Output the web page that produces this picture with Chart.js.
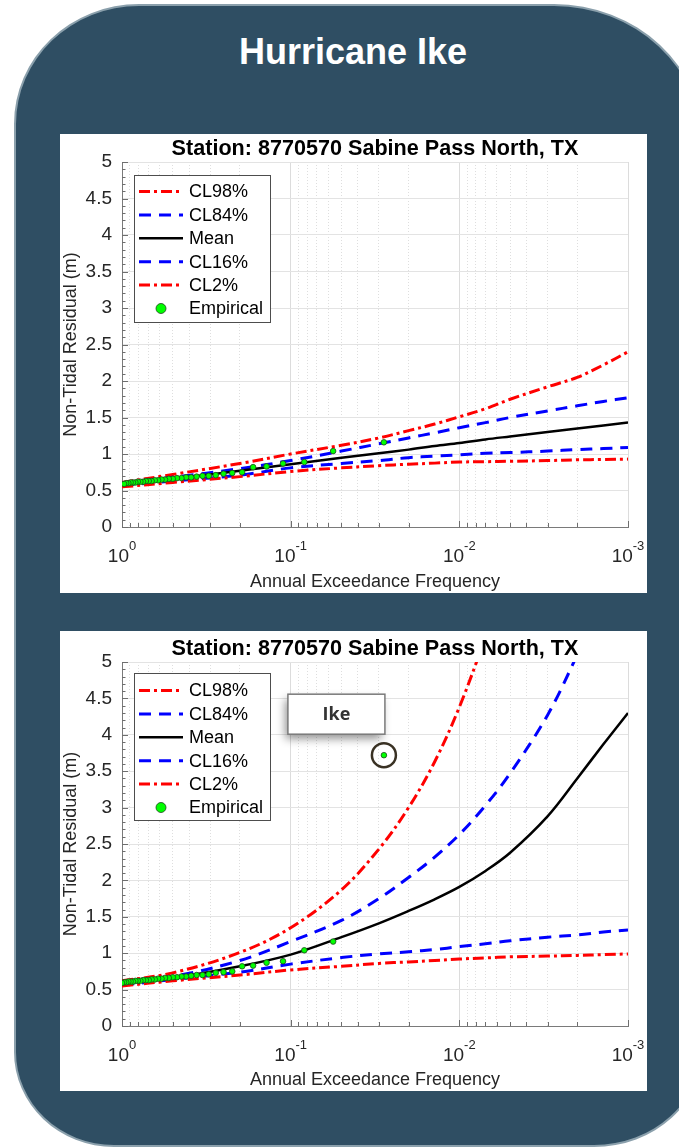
<!DOCTYPE html>
<html>
<head>
<meta charset="utf-8">
<title>Hurricane Ike</title>
<script src="https://cdn.jsdelivr.net/npm/chart.js@4.4.1/dist/chart.umd.min.js"></script>
<style>
  html, body { margin: 0; padding: 0; background: #ffffff; }
  body { width: 679px; height: 1148px; position: relative; overflow: hidden; font-family: "Liberation Sans", Arial, sans-serif; }
  #panel { position: absolute; left: 14px; top: 4px; width: 690px; height: 1143px; box-sizing: border-box;
           background: #2f4e63; border: 2px solid #8ba0ac;
           border-radius: 125px 150px 110px 100px / 120px 140px 100px 95px; }
  #heading { position: absolute; left: 0; top: 34px; width: 706px; text-align: center; color: #ffffff;
             font: bold 36px/36px "Liberation Sans", Arial, sans-serif; }
  .box { position: absolute; left: 60px; width: 587px; background: #ffffff; }
  #box1 { top: 134px; height: 459px; }
  #box2 { top: 631px; height: 460px; }
  canvas { display: block; }
</style>
</head>
<body>
<div id="panel"></div>
<div id="heading">Hurricane Ike</div>
<div class="box" id="box1"><canvas id="chartTop" width="587" height="459"></canvas></div>
<div class="box" id="box2"><canvas id="chartIke" width="587" height="460"></canvas></div>
<script>
    // x axis: annual exceedance frequency, log scale, reversed
    var xTickValues = [0.001, 0.002, 0.003, 0.004, 0.005, 0.006, 0.007, 0.008, 0.009,
                       0.01, 0.02, 0.03, 0.04, 0.05, 0.06, 0.07, 0.08, 0.09,
                       0.1, 0.2, 0.3, 0.4, 0.5, 0.6, 0.7, 0.8, 0.9, 1]
    var xMajorValues = [1, 0.1, 0.01, 0.001]
    var xMajorExp = ['0', '-1', '-2', '-3']

    // fitted curves, sampled at these frequencies
    var aefCurve = [1, 0.5, 0.2, 0.1, 0.05, 0.03, 0.02, 0.014, 0.01, 0.007, 0.005, 0.003, 0.002, 0.0014, 0.001]

    // top chart (without Ike)
    var top98 = [0.61, 0.72, 0.87, 1.00, 1.12, 1.22, 1.32, 1.41, 1.51, 1.62, 1.75, 1.92, 2.05, 2.22, 2.40]
    var top84 = [0.60, 0.68, 0.80, 0.91, 1.04, 1.14, 1.22, 1.29, 1.36, 1.43, 1.50, 1.59, 1.66, 1.72, 1.77]
    var topMean = [0.59, 0.66, 0.77, 0.86, 0.95, 1.01, 1.06, 1.11, 1.15, 1.20, 1.24, 1.30, 1.35, 1.39, 1.43]
    var top16 = [0.57, 0.63, 0.71, 0.81, 0.87, 0.91, 0.95, 0.97, 0.99, 1.01, 1.02, 1.04, 1.06, 1.075, 1.09]
    var top2 = [0.55, 0.61, 0.69, 0.76, 0.81, 0.84, 0.86, 0.875, 0.89, 0.895, 0.90, 0.91, 0.92, 0.925, 0.93]

    // bottom chart (with Ike)
    var ike98 = [0.62, 0.73, 1.01, 1.35, 1.87, 2.43, 3.00, 3.63, 4.38, 5.35, 6.40, null, null, null, null]
    var ike84 = [0.60, 0.68, 0.90, 1.16, 1.45, 1.75, 2.04, 2.32, 2.63, 3.03, 3.47, 4.27, 5.10, 5.90, 6.70]
    var ikeMean = [0.59, 0.66, 0.82, 0.98, 1.22, 1.41, 1.58, 1.74, 1.91, 2.13, 2.38, 2.88, 3.40, 3.87, 4.30]
    var ike16 = [0.56, 0.64, 0.74, 0.85, 0.94, 0.99, 1.02, 1.05, 1.09, 1.13, 1.17, 1.22, 1.25, 1.29, 1.32]
    var ike2 = [0.55, 0.62, 0.70, 0.77, 0.82, 0.86, 0.88, 0.90, 0.92, 0.935, 0.95, 0.96, 0.97, 0.98, 0.99]

    // empirical (plotting position) points
    var aefEmp = [0.028, 0.056, 0.083, 0.111, 0.139, 0.167, 0.194, 0.222, 0.25, 0.278,
                  0.306, 0.333, 0.361, 0.389, 0.417, 0.444, 0.472, 0.5, 0.528, 0.556,
                  0.583, 0.611, 0.639, 0.667, 0.694, 0.722, 0.75, 0.778, 0.806, 0.833,
                  0.861, 0.889, 0.917, 0.944, 0.972, 1.0]
    var empTop = [1.16, 1.04, 0.89, 0.87, 0.83, 0.82, 0.75, 0.74, 0.73, 0.71,
                  0.70, 0.70, 0.69, 0.68, 0.68, 0.67, 0.67, 0.66, 0.66, 0.65,
                  0.65, 0.64, 0.64, 0.63, 0.63, 0.63, 0.62, 0.62, 0.62, 0.61,
                  0.61, 0.61, 0.60, 0.60, 0.59]
    var empIke = [3.72, 1.16, 1.04, 0.89, 0.87, 0.83, 0.82, 0.75, 0.74, 0.73,
                  0.71, 0.70, 0.70, 0.69, 0.68, 0.68, 0.67, 0.67, 0.66, 0.66,
                  0.65, 0.65, 0.64, 0.64, 0.63, 0.63, 0.63, 0.62, 0.62, 0.62,
                  0.61, 0.61, 0.61, 0.60, 0.60, 0.59]

    // the circled Ike event
    var ringAEF = [0.028]
    var ringValue = [3.72]

    var FONT = '"Liberation Sans", Arial, sans-serif'
    var TEXT = '#262626'
    Chart.defaults.font.family = FONT
    Chart.defaults.color = TEXT

    function isDecade(v) {
        var l = Math.log10(v)
        return Math.abs(l - Math.round(l)) < 1e-9
    }

    function pairs(xs, ys) {
        var out = []
        for (var i = 0; i < ys.length; i++) out.push({x: xs[i], y: ys[i]})
        return out
    }

    function curve(label, vals, color, dash, width, order) {
        return {
            label: label,
            data: pairs(aefCurve, vals),
            showLine: true,
            borderColor: color,
            backgroundColor: color,
            borderDash: dash,
            borderWidth: width,
            pointRadius: 0,
            pointHoverRadius: 0,
            tension: 0.35,
            spanGaps: false,
            clip: 0,
            order: order,
            inLegend: true
        }
    }

    function empirical(vals) {
        return {
            label: 'Empirical',
            data: pairs(aefEmp, vals),
            showLine: false,
            pointRadius: 2.8,
            pointHoverRadius: 2.8,
            pointBackgroundColor: '#00ff00',
            pointBorderColor: '#1d461d',
            pointBorderWidth: 0.8,
            order: 0,
            inLegend: true,
            isMarker: true
        }
    }

    var DASHDOT = [11, 4, 3, 4]
    var DASH = [12, 8]

    // MATLAB-style boxed legend inside the axes
    var boxLegend = {
        id: 'boxLegend',
        afterDatasetsDraw: function(chart, args, opts) {
            var ctx = chart.ctx, a = chart.chartArea
            var x0 = a.left + opts.dx, y0 = a.top + opts.dy
            ctx.save()
            ctx.fillStyle = '#ffffff'
            ctx.fillRect(x0, y0, 136, 147)
            ctx.strokeStyle = '#4d4d4d'
            ctx.lineWidth = 1
            ctx.strokeRect(x0 + 0.5, y0 + 0.5, 136, 147)
            var row = 0
            chart.data.datasets.forEach(function(ds) {
                if (!ds.inLegend) return
                var yy = y0 + opts.first + row * 23.4
                if (ds.isMarker) {
                    ctx.beginPath()
                    ctx.arc(x0 + 27, yy, 5, 0, Math.PI * 2)
                    ctx.fillStyle = ds.pointBackgroundColor
                    ctx.fill()
                    ctx.lineWidth = 0.8
                    ctx.strokeStyle = ds.pointBorderColor
                    ctx.stroke()
                } else {
                    ctx.beginPath()
                    ctx.setLineDash(ds.borderDash || [])
                    ctx.lineWidth = ds.borderWidth
                    ctx.strokeStyle = ds.borderColor
                    ctx.moveTo(x0 + 5, yy)
                    ctx.lineTo(x0 + 49, yy)
                    ctx.stroke()
                    ctx.setLineDash([])
                }
                ctx.fillStyle = '#000000'
                ctx.font = '18px ' + FONT
                ctx.textBaseline = 'middle'
                ctx.textAlign = 'left'
                ctx.fillText(ds.label, x0 + 55, yy + 1)
                row++
            })
            ctx.restore()
        }
    }

    // bold title centred over the plot area
    var plotTitle = {
        id: 'plotTitle',
        afterDraw: function(chart, args, opts) {
            var ctx = chart.ctx, a = chart.chartArea
            ctx.save()
            ctx.fillStyle = '#000000'
            ctx.font = 'bold 21.6px ' + FONT
            ctx.textAlign = 'center'
            ctx.textBaseline = 'middle'
            ctx.fillText(opts.text, (a.left + a.right) / 2, opts.y)
            ctx.restore()
        }
    }

    // 10^n tick labels with superscripts
    var expLabels = {
        id: 'expLabels',
        afterDraw: function(chart) {
            var ctx = chart.ctx, xs = chart.scales.x, a = chart.chartArea
            ctx.save()
            ctx.fillStyle = TEXT
            ctx.textBaseline = 'alphabetic'
            ctx.textAlign = 'left'
            xMajorValues.forEach(function(v, i) {
                ctx.font = '19px ' + FONT
                var wb = ctx.measureText('10').width
                ctx.font = '13px ' + FONT
                var we = ctx.measureText(xMajorExp[i]).width
                var left = xs.getPixelForValue(v) - (wb + we) / 2
                ctx.font = '19px ' + FONT
                ctx.fillText('10', left, a.bottom + 35)
                ctx.font = '13px ' + FONT
                ctx.fillText(xMajorExp[i], left + wb, a.bottom + 23)
            })
            ctx.restore()
        }
    }

    // inward tick marks, as MATLAB draws them
    var innerTicks = {
        id: 'innerTicks',
        beforeDatasetsDraw: function(chart) {
            var ctx = chart.ctx, a = chart.chartArea, xs = chart.scales.x, ys = chart.scales.y
            ctx.save()
            ctx.strokeStyle = '#6e6e6e'
            ctx.lineWidth = 1
            ctx.beginPath()
            xTickValues.forEach(function(v) {
                var px = Math.round(xs.getPixelForValue(v)) + 0.5
                var len = isDecade(v) ? 6 : 4
                ctx.moveTo(px, a.bottom)
                ctx.lineTo(px, a.bottom - len)
            })
            for (var k = 0; k <= 50; k++) {
                var py = Math.round(ys.getPixelForValue(k / 10)) + 0.5
                var len = k % 5 === 0 ? 6 : 3.5
                ctx.moveTo(a.left, py)
                ctx.lineTo(a.left + len, py)
            }
            ctx.stroke()
            ctx.restore()
        }
    }

    // the "Ike" call-out box, placed relative to the circled point
    var ikeLabel = {
        id: 'ikeLabel',
        afterDatasetsDraw: function(chart, args, opts) {
            if (!opts || opts.index === undefined) return
            var pt = chart.getDatasetMeta(opts.index).data[0]
            if (!pt) return
            var ctx = chart.ctx
            var bx = pt.x - 96, by = pt.y - 61, bw = 97, bh = 40
            ctx.save()
            ctx.shadowColor = 'rgba(0,0,0,0.45)'
            ctx.shadowBlur = 9
            ctx.shadowOffsetX = -3
            ctx.shadowOffsetY = 5
            ctx.fillStyle = '#ffffff'
            ctx.fillRect(bx, by, bw, bh)
            ctx.shadowColor = 'rgba(0,0,0,0)'
            ctx.strokeStyle = '#7a7a7a'
            ctx.lineWidth = 1.5
            ctx.strokeRect(bx, by, bw, bh)
            ctx.fillStyle = '#333333'
            ctx.font = 'bold 18px "Open Sans", ' + FONT
            ctx.textAlign = 'center'
            ctx.textBaseline = 'middle'
            ctx.fillText(opts.text, bx + bw / 2, by + bh / 2 + 1)
            ctx.restore()
        }
    }

    function makeChart(id, setup) {
        var ctx = document.getElementById(id).getContext('2d')
        return new Chart(ctx, {
            type: 'scatter',
            data: { datasets: setup.datasets },
            plugins: [innerTicks, boxLegend, plotTitle, expLabels, ikeLabel],
            options: {
                responsive: false,
                animation: false,
                events: [],
                devicePixelRatio: 1,
                layout: { padding: { top: setup.padTop, right: 19, bottom: 0, left: 0 } },
                plugins: {
                    legend: { display: false },
                    tooltip: { enabled: false },
                    boxLegend: { dx: 12, dy: setup.legendDy, first: setup.legendFirst },
                    plotTitle: { text: 'Station: 8770570 Sabine Pass North, TX', y: setup.titleY },
                    ikeLabel: setup.ikeLabel || {}
                },
                scales: {
                    x: {
                        type: 'logarithmic',
                        min: 0.001,
                        max: 1,
                        reverse: true,
                        afterBuildTicks: function(s) {
                            s.ticks = xTickValues.map(function(v) { return {value: v, major: isDecade(v)} })
                        },
                        ticks: { autoSkip: false, maxRotation: 0, callback: function() { return '' } },
                        grid: {
                            drawTicks: false,
                            lineWidth: 1,
                            color: function(c) { return c.tick && isDecade(c.tick.value) ? '#dcdcdc' : '#dedede' }
                        },
                        border: {
                            display: true,
                            color: '#7a7a7a',
                            width: 1,
                            dash: function(c) { return c.tick && !isDecade(c.tick.value) ? [1, 2] : [] }
                        },
                        title: {
                            display: true,
                            text: 'Annual Exceedance Frequency',
                            color: TEXT,
                            font: { size: 18 },
                            padding: { top: 0, bottom: 0 }
                        },
                        afterFit: function(s) { s.height = setup.xHeight }
                    },
                    y: {
                        type: 'linear',
                        min: 0,
                        max: 5,
                        ticks: {
                            stepSize: 0.5,
                            padding: 10,
                            color: TEXT,
                            font: { size: 19 },
                            callback: function(v) { return String(Math.round(v * 10) / 10) }
                        },
                        grid: { drawTicks: false, lineWidth: 1, color: '#e3e3e3' },
                        border: { display: true, color: '#7a7a7a', width: 1 },
                        title: {
                            display: true,
                            text: 'Non-Tidal Residual (m)',
                            color: TEXT,
                            font: { size: 18 },
                            padding: 0
                        },
                        afterFit: function(s) { s.width = 62 }
                    }
                }
            }
        })
    }

    makeChart('chartTop', {
        padTop: 28,
        xHeight: 66,
        titleY: 15.5,
        legendDy: 13,
        legendFirst: 16.5,
        datasets: [
            curve('CL98%', top98, '#ff0000', DASHDOT, 3, 5),
            curve('CL84%', top84, '#0000ff', DASH, 3, 4),
            curve('Mean', topMean, '#000000', [], 2.5, 3),
            curve('CL16%', top16, '#0000ff', DASH, 3, 2),
            curve('CL2%', top2, '#ff0000', DASHDOT, 3, 1),
            empirical(empTop)
        ]
    })

    makeChart('chartIke', {
        padTop: 31,
        xHeight: 65,
        titleY: 18,
        legendDy: 11,
        legendFirst: 17.5,
        ikeLabel: { index: 6, text: 'Ike' },
        datasets: [
            curve('CL98%', ike98, '#ff0000', DASHDOT, 3, 5),
            curve('CL84%', ike84, '#0000ff', DASH, 3, 4),
            curve('Mean', ikeMean, '#000000', [], 2.5, 3),
            curve('CL16%', ike16, '#0000ff', DASH, 3, 2),
            curve('CL2%', ike2, '#ff0000', DASHDOT, 3, 1),
            empirical(empIke),
            {
                label: 'Ike',
                data: pairs(ringAEF, ringValue),
                showLine: false,
                pointRadius: 12,
                pointHoverRadius: 12,
                pointBackgroundColor: 'rgba(0,0,0,0)',
                pointBorderColor: '#3a3224',
                pointBorderWidth: 2.5,
                order: -1
            }
        ]
    })
</script>
</body>
</html>
